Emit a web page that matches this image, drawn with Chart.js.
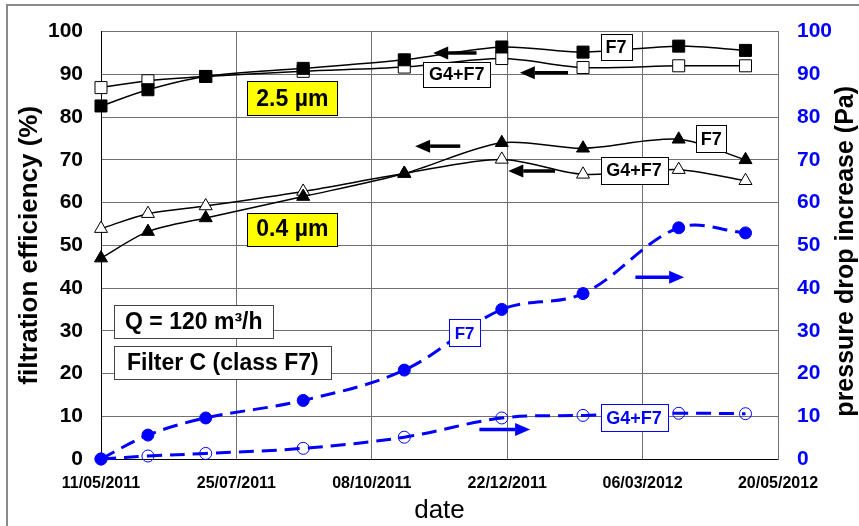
<!DOCTYPE html>
<html>
<head>
<meta charset="utf-8">
<script src="https://cdn.jsdelivr.net/npm/chart.js@4.4.0/dist/chart.umd.min.js"></script>
<style>
  html, body { margin: 0; padding: 0; background: #fff; }
  #wrap { width: 859px; height: 526px; }
</style>
</head>
<body>
<div id="wrap"><canvas id="effChart" width="859" height="526"></canvas></div>
<script>
// sampling days, counted from 11/05/2011
const sampleDays = [0, 26, 58, 112, 168, 222, 267, 320, 357];
const dateTicks = ['11/05/2011', '25/07/2011', '08/10/2011', '22/12/2011', '06/03/2012', '20/05/2012'];
const tickStepDays = 75;

// filtration efficiency (%), 2.5 um and 0.4 um particles
const eff25F7   = [82.6, 86.4, 89.5, 91.4, 93.4, 96.4, 95.2, 96.6, 95.6];
const eff25G4F7 = [86.9, 88.5, 89.5, 90.7, 91.7, 93.7, 91.6, 92.0, 92.0];
const eff04F7   = [47.0, 53.2, 56.4, 61.4, 66.8, 74.0, 72.7, 74.8, 70.0];
const eff04G4F7 = [53.9, 57.4, 59.2, 62.6, 66.8, 70.1, 66.6, 67.7, 65.1];

// pressure drop increase (Pa)
const dpF7   = [0, 5.6, 9.6, 13.7, 20.8, 35.0, 38.7, 54.1, 52.9];
const dpG4F7 = [0, 0.7, 1.3, 2.5, 5.1, 9.6, 10.2, 10.7, 10.6];

const FONT = 'Arial, "Liberation Sans", sans-serif';
const BLUE = '#0000ff';

function toPoints(vals) {
  return vals.map((v, i) => ({ x: sampleDays[i], y: v }));
}

// text boxes, placed in data units (day, %)
const boxLabels = [
  { text: '2.5 µm', day: 106, val: 84.4, w: 90, h: 34, size: 23, color: '#000', fill: '#ffff00', stroke: '#000' },
  { text: '0.4 µm', day: 106, val: 53.8, w: 90, h: 33, size: 23, color: '#000', fill: '#ffff00', stroke: '#000' },
  { text: 'F7', day: 285.3, val: 96.3, w: 31, h: 26, size: 18, color: '#000', fill: '#fff', stroke: '#000' },
  { text: 'G4+F7', day: 197, val: 90.0, w: 67, h: 25, size: 18, color: '#000', fill: '#fff', stroke: '#000' },
  { text: 'F7', day: 338, val: 74.9, w: 30, h: 27, size: 18, color: '#000', fill: '#fff', stroke: '#000' },
  { text: 'G4+F7', day: 295.3, val: 67.6, w: 67, h: 27, size: 18, color: '#000', fill: '#fff', stroke: '#000' },
  { text: 'F7', day: 201.4, val: 29.5, w: 31, h: 27, size: 17, color: BLUE, fill: '#fff', stroke: BLUE },
  { text: 'G4+F7', day: 295.3, val: 9.7, w: 67, h: 27, size: 18, color: BLUE, fill: '#fff', stroke: BLUE },
  { text: 'Q = 120 m³/h', day: 51.4, val: 32.2, w: 159, h: 33, size: 23, color: '#000', fill: '#fff', stroke: '#444' },
  { text: 'Filter C (class F7)', day: 67.5, val: 22.5, w: 217, h: 33, size: 23, color: '#000', fill: '#fff', stroke: '#444' }
];

// arrows pointing to the axis that a curve belongs to
const arrows = [
  { from: [208, 95.0], to: [184, 95.0], color: '#000' },
  { from: [258.7, 90.4], to: [232, 90.4], color: '#000' },
  { from: [199, 73.2], to: [174, 73.2], color: '#000' },
  { from: [251.5, 67.4], to: [225.6, 67.4], color: '#000' },
  { from: [296, 42.5], to: [323, 42.5], color: BLUE },
  { from: [209.6, 6.9], to: [237.7, 6.9], color: BLUE }
];

const overlay = {
  id: 'overlay',
  beforeDraw(chart) {
    const ctx = chart.ctx;
    ctx.save();
    ctx.strokeStyle = '#8a8a8a';
    ctx.lineWidth = 2;
    ctx.strokeRect(7, 5, 900, 600);
    ctx.restore();
  },
  afterDatasetsDraw(chart) {
    const ctx = chart.ctx;
    const xs = chart.scales.x, ys = chart.scales.y;
    ctx.save();
    arrows.forEach(a => {
      const x1 = xs.getPixelForValue(a.from[0]), y1 = ys.getPixelForValue(a.from[1]);
      const x2 = xs.getPixelForValue(a.to[0]), y2 = ys.getPixelForValue(a.to[1]);
      const dir = Math.sign(x2 - x1);
      const head = 15;
      ctx.strokeStyle = a.color;
      ctx.fillStyle = a.color;
      ctx.lineWidth = 3.5;
      ctx.beginPath();
      ctx.moveTo(x1, y1);
      ctx.lineTo(x2 - dir * head, y2);
      ctx.stroke();
      ctx.beginPath();
      ctx.moveTo(x2, y2);
      ctx.lineTo(x2 - dir * head, y2 - 6.5);
      ctx.lineTo(x2 - dir * head, y2 + 6.5);
      ctx.closePath();
      ctx.fill();
    });
    boxLabels.forEach(b => {
      const cx = xs.getPixelForValue(b.day), cy = ys.getPixelForValue(b.val);
      const left = Math.round(cx - b.w / 2) + 0.5, top = Math.round(cy - b.h / 2) + 0.5;
      ctx.fillStyle = b.fill;
      ctx.fillRect(left, top, b.w, b.h);
      ctx.strokeStyle = b.stroke;
      ctx.lineWidth = 1;
      ctx.strokeRect(left, top, b.w, b.h);
      ctx.fillStyle = b.color;
      ctx.font = 'bold ' + b.size + 'px ' + FONT;
      ctx.textAlign = 'center';
      ctx.textBaseline = 'middle';
      ctx.fillText(b.text, cx, cy + 1);
    });
    ctx.restore();
  },
  afterDraw(chart) {
    // right axis title reads bottom-to-top, like the left one
    const ctx = chart.ctx;
    const area = chart.chartArea;
    ctx.save();
    ctx.translate(846, (area.top + area.bottom) / 2 + 6);
    ctx.rotate(-Math.PI / 2);
    ctx.font = 'bold 25px ' + FONT;
    ctx.fillStyle = '#000';
    ctx.textAlign = 'center';
    ctx.textBaseline = 'middle';
    ctx.fillText('pressure drop increase (Pa)', 0, 0);
    ctx.restore();
  }
};

Chart.defaults.font.family = FONT;

const ctx = document.getElementById('effChart').getContext('2d');
const effChart = new Chart(ctx, {
  type: 'line',
  data: {
    datasets: [
      {
        label: 'F7 2.5 µm', data: toPoints(eff25F7), yAxisID: 'y',
        borderColor: '#000', borderWidth: 1.5, tension: 0.3,
        pointStyle: 'rect', pointRadius: 8.5, pointBackgroundColor: '#000', pointBorderColor: '#000', pointBorderWidth: 1
      },
      {
        label: 'G4+F7 2.5 µm', data: toPoints(eff25G4F7), yAxisID: 'y',
        borderColor: '#000', borderWidth: 1.5, tension: 0.3,
        pointStyle: 'rect', pointRadius: 8.5, pointBackgroundColor: '#fff', pointBorderColor: '#000', pointBorderWidth: 1
      },
      {
        label: 'F7 0.4 µm', data: toPoints(eff04F7), yAxisID: 'y',
        borderColor: '#000', borderWidth: 1.5, tension: 0.3,
        pointStyle: 'triangle', pointRadius: 7.5, pointBackgroundColor: '#000', pointBorderColor: '#000', pointBorderWidth: 1
      },
      {
        label: 'G4+F7 0.4 µm', data: toPoints(eff04G4F7), yAxisID: 'y',
        borderColor: '#000', borderWidth: 1.5, tension: 0.3,
        pointStyle: 'triangle', pointRadius: 7.5, pointBackgroundColor: '#fff', pointBorderColor: '#000', pointBorderWidth: 1
      },
      {
        label: 'F7 dp', data: toPoints(dpF7), yAxisID: 'y2',
        borderColor: BLUE, borderWidth: 3, borderDash: [15, 8], tension: 0.35,
        pointStyle: 'circle', pointRadius: 6, pointBackgroundColor: BLUE, pointBorderColor: BLUE, pointBorderWidth: 1
      },
      {
        label: 'G4+F7 dp', data: toPoints(dpG4F7), yAxisID: 'y2',
        borderColor: BLUE, borderWidth: 3, borderDash: [15, 8], tension: 0.35,
        pointStyle: 'circle', pointRadius: 6, pointBackgroundColor: 'rgba(255,255,255,0)', pointBorderColor: BLUE, pointBorderWidth: 1
      }
    ]
  },
  options: {
    responsive: false,
    animation: false,
    devicePixelRatio: 1,
    clip: false,
    layout: { padding: { top: 27, left: 0, right: 0, bottom: 0 } },
    plugins: { legend: { display: false }, tooltip: { enabled: false } },
    scales: {
      x: {
        type: 'linear', min: 0, max: 375,
        ticks: {
          stepSize: tickStepDays, autoSkip: false, maxRotation: 0, padding: 15, color: '#000',
          font: { size: 16, weight: 'bold' },
          callback: v => dateTicks[Math.round(v / tickStepDays)]
        },
        grid: { color: '#707070', drawTicks: false, lineWidth: 1 },
        border: { color: '#000' },
        title: { display: true, text: 'date', color: '#000', font: { size: 26 }, padding: { top: 0, bottom: 0 } },
        afterFit(s) { s.height = 67; }
      },
      y: {
        position: 'left', min: 0, max: 100,
        ticks: { stepSize: 10, padding: 18, color: '#000', font: { size: 21, weight: 'bold' } },
        grid: { color: '#707070', drawTicks: false, lineWidth: 1 },
        border: { color: '#000' },
        title: { display: true, text: 'filtration efficiency (%)', color: '#000', font: { size: 26, weight: 'bold' }, padding: { top: 14, bottom: 0 } },
        afterFit(s) { s.width = 101; }
      },
      y2: {
        position: 'right', min: 0, max: 100,
        ticks: { stepSize: 10, padding: 19, color: BLUE, font: { size: 21, weight: 'bold' } },
        grid: { display: false, drawTicks: false },
        border: { color: '#707070' },
        afterFit(s) { s.width = 81; }
      }
    }
  },
  plugins: [overlay]
});
</script>
</body>
</html>
